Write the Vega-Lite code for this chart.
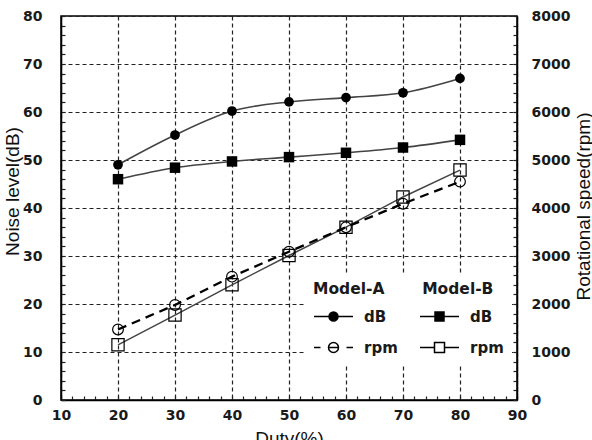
{
  "$schema": "https://vega.github.io/schema/vega-lite/v6.json",
  "width": 456,
  "height": 384,
  "autosize": {"type": "none"},
  "padding": {"left": 61, "top": 16, "right": 75, "bottom": 40},
  "background": "white",
  "config": {
    "view": {"stroke": "black", "strokeWidth": 1.5},
    "axis": {
      "labelFont": "DejaVu Sans", "labelFontWeight": "bold", "labelFontSize": 14, "labelColor": "#1a1a1a",
      "titleFont": "Liberation Sans", "titleFontWeight": "normal", "titleFontSize": 19, "titleColor": "#111",
      "domainColor": "black", "domainWidth": 1.5, "tickColor": "#222", "tickWidth": 1.2,
      "gridColor": "#222", "gridDash": [4, 3], "gridWidth": 1.2, "labelOverlap": false, "labelFlush": false
    }
  },
  "data": {"values": [
    {"duty": 20, "series": "A-dB", "value": 49}, {"duty": 30, "series": "A-dB", "value": 55.2}, {"duty": 40, "series": "A-dB", "value": 60.2}, {"duty": 50, "series": "A-dB", "value": 62.1}, {"duty": 60, "series": "A-dB", "value": 63}, {"duty": 70, "series": "A-dB", "value": 64}, {"duty": 80, "series": "A-dB", "value": 67},
    {"duty": 20, "series": "B-dB", "value": 46}, {"duty": 30, "series": "B-dB", "value": 48.4}, {"duty": 40, "series": "B-dB", "value": 49.7}, {"duty": 50, "series": "B-dB", "value": 50.6}, {"duty": 60, "series": "B-dB", "value": 51.5}, {"duty": 70, "series": "B-dB", "value": 52.6}, {"duty": 80, "series": "B-dB", "value": 54.2},
    {"duty": 20, "series": "A-rpm", "value": 1470}, {"duty": 30, "series": "A-rpm", "value": 1980}, {"duty": 40, "series": "A-rpm", "value": 2570}, {"duty": 50, "series": "A-rpm", "value": 3090}, {"duty": 60, "series": "A-rpm", "value": 3600}, {"duty": 70, "series": "A-rpm", "value": 4090}, {"duty": 80, "series": "A-rpm", "value": 4550},
    {"duty": 20, "series": "B-rpm", "value": 1150}, {"duty": 30, "series": "B-rpm", "value": 1770}, {"duty": 40, "series": "B-rpm", "value": 2400}, {"duty": 50, "series": "B-rpm", "value": 3010}, {"duty": 60, "series": "B-rpm", "value": 3600}, {"duty": 70, "series": "B-rpm", "value": 4230}, {"duty": 80, "series": "B-rpm", "value": 4790}
  ]},
  "encoding": {
    "x": {
      "field": "duty", "type": "quantitative",
      "scale": {"domain": [10, 90], "nice": false, "zero": false},
      "axis": {
        "values": [10,12,14,16,18,20,22,24,26,28,30,32,34,36,38,40,42,44,46,48,50,52,54,56,58,60,62,64,66,68,70,72,74,76,78,80,82,84,86,88,90],
        "labelExpr": "datum.value % 10 === 0 ? datum.label : ''",
        "tickSize": -4, "labelPadding": 12,
        "grid": true,
        "gridOpacity": {"condition": {"test": "datum.value % 10 === 0", "value": 1}, "value": 0},
        "title": "Duty(%)", "titleBaseline": "alphabetic", "titleAlign": "center", "titleX": 228, "titleY": 44
      }
    }
  },
  "layer": [
    {
      "encoding": {
        "y": {
          "field": "value", "type": "quantitative",
          "scale": {"domain": [0, 80], "nice": false},
          "axis": {
            "orient": "left",
            "values": [0,2,4,6,8,10,12,14,16,18,20,22,24,26,28,30,32,34,36,38,40,42,44,46,48,50,52,54,56,58,60,62,64,66,68,70,72,74,76,78,80],
            "labelExpr": "datum.value % 10 === 0 ? datum.label : ''",
            "tickSize": -4, "labelPadding": 23,
            "grid": true,
            "gridOpacity": {"condition": {"test": "datum.value % 10 === 0", "value": 1}, "value": 0},
            "title": "Noise level(dB)", "titleAngle": 270, "titleBaseline": "alphabetic", "titleAlign": "center", "titleX": -43, "titleY": 175
          }
        }
      },
      "layer": [
        {
          "transform": [{"filter": "datum.series == 'A-dB' || datum.series == 'B-dB'"}],
          "mark": {"type": "line", "interpolate": "monotone", "color": "#444", "strokeWidth": 1.6},
          "encoding": {"detail": {"field": "series"}}
        },
        {
          "transform": [{"filter": "datum.series == 'A-dB'"}],
          "mark": {"type": "point", "shape": "circle", "filled": true, "color": "black", "opacity": 1, "size": 95}
        },
        {
          "transform": [{"filter": "datum.series == 'B-dB'"}],
          "mark": {"type": "point", "shape": "square", "filled": true, "color": "black", "opacity": 1, "size": 110}
        }
      ]
    },
    {
      "encoding": {
        "y": {
          "field": "value", "type": "quantitative",
          "scale": {"domain": [0, 8000], "nice": false},
          "axis": {
            "orient": "right",
            "values": [0,200,400,600,800,1000,1200,1400,1600,1800,2000,2200,2400,2600,2800,3000,3200,3400,3600,3800,4000,4200,4400,4600,4800,5000,5200,5400,5600,5800,6000,6200,6400,6600,6800,7000,7200,7400,7600,7800,8000],
            "format": "d",
            "labelExpr": "datum.value % 1000 === 0 ? datum.label : ''",
            "tickSize": -4, "labelPadding": 18,
            "grid": false,
            "title": "Rotational speed(rpm)", "titleAngle": 270, "titleBaseline": "alphabetic", "titleAlign": "center", "titleX": 72, "titleY": 190
          }
        }
      },
      "layer": [
        {
          "transform": [{"filter": "datum.series == 'B-rpm'"}],
          "mark": {"type": "line", "color": "#444", "strokeWidth": 1.5}
        },
        {
          "transform": [{"filter": "datum.series == 'A-rpm'"}],
          "mark": {"type": "line", "color": "black", "strokeWidth": 2.3, "strokeDash": [9, 6]}
        },
        {
          "transform": [{"filter": "datum.series == 'A-rpm'"}],
          "mark": {"type": "point", "shape": "circle", "filled": false, "color": "black", "opacity": 1, "size": 115, "strokeWidth": 1.2}
        },
        {
          "transform": [{"filter": "datum.series == 'B-rpm'"}],
          "mark": {"type": "point", "shape": "square", "filled": false, "color": "black", "opacity": 1, "size": 150, "strokeWidth": 1.2}
        },
        {
          "transform": [{"filter": "datum.series == 'A-rpm' || datum.series == 'B-rpm'"}],
          "mark": {"type": "point", "opacity": 0, "size": 400, "stroke": "black", "strokeWidth": 1.5},
          "encoding": {
            "shape": {
              "field": "series", "type": "nominal",
              "scale": {
                "domain": ["A-dB", "A-rpm", "B-dB", "B-rpm"],
                "range": [
                  "M-1,0H0.5M1.4,0H2.9M1.4,0A0.45,0.45,0,1,1,0.5,0A0.45,0.45,0,1,1,1.4,0",
                  "M-1,0H-0.35M2.25,0H2.9M0.45,0H1.45M1.45,0A0.5,0.5,0,1,1,0.45,0A0.5,0.5,0,1,1,1.45,0",
                  "M-1,0H0.5M1.4,0H2.9M0.5,-0.45H1.4V0.45H0.5Z",
                  "M-1,0H0.45M1.45,0H2.9M0.45,-0.5H1.45V0.5H0.45Z"
                ]
              },
              "legend": {
                "title": "Model-A\u00a0\u00a0\u00a0\u00a0\u00a0\u00a0\u00a0Model-B",
                "orient": "none", "legendX": 244, "legendY": 258,
                "columns": 2, "columnPadding": 19, "rowPadding": 12,
                "symbolSize": 400, "symbolStrokeWidth": 1.5, "symbolStrokeColor": "black", "symbolOpacity": 1,
                "labelOffset": 29, "labelExpr": "split(datum.label, '-')[1]",
                "labelFont": "DejaVu Sans", "labelFontWeight": "bold", "labelFontSize": 15, "labelColor": "#1a1a1a",
                "titleFont": "DejaVu Sans", "titleFontWeight": "bold", "titleFontSize": 15.5, "titleColor": "#1a1a1a", "titlePadding": 8, "titleLimit": 400,
                "fillColor": "white", "padding": 8,
                "encode": {"symbols": {"update": {"stroke": {"value": "black"}, "strokeWidth": {"value": 1.5}, "opacity": {"value": 1}}}}
              }
            },
            "fill": {
              "field": "series", "type": "nominal",
              "scale": {"domain": ["A-dB", "A-rpm", "B-dB", "B-rpm"], "range": ["black", "transparent", "black", "transparent"]},
              "legend": {
                "title": "Model-A\u00a0\u00a0\u00a0\u00a0\u00a0\u00a0\u00a0Model-B",
                "orient": "none", "legendX": 244, "legendY": 258,
                "columns": 2, "columnPadding": 19, "rowPadding": 12,
                "symbolSize": 400, "symbolStrokeWidth": 1.5, "symbolStrokeColor": "black", "symbolOpacity": 1,
                "labelOffset": 29, "labelExpr": "split(datum.label, '-')[1]",
                "labelFont": "DejaVu Sans", "labelFontWeight": "bold", "labelFontSize": 15, "labelColor": "#1a1a1a",
                "titleFont": "DejaVu Sans", "titleFontWeight": "bold", "titleFontSize": 15.5, "titleColor": "#1a1a1a", "titlePadding": 8, "titleLimit": 400,
                "fillColor": "white", "padding": 8,
                "encode": {"symbols": {"update": {"stroke": {"value": "black"}, "strokeWidth": {"value": 1.5}, "opacity": {"value": 1}}}}
              }
            }
          }
        }
      ]
    }
  ],
  "resolve": {"scale": {"y": "independent"}}
}
